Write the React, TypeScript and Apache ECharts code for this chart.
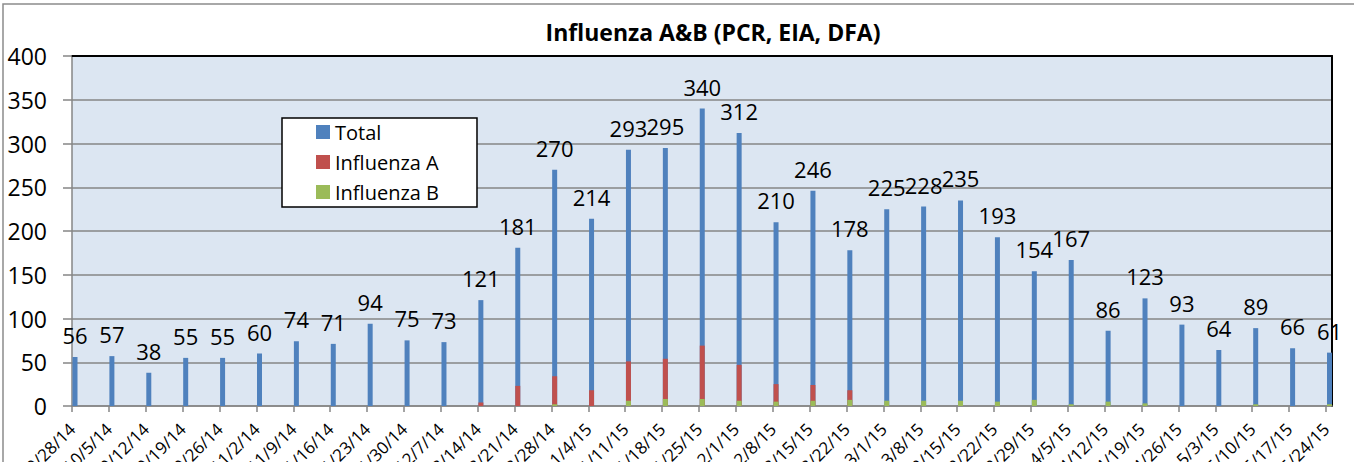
import React, { useEffect, useRef } from "react";
import * as echarts from "echarts";

const categories = [
  "9/28/14", "10/5/14", "10/12/14", "10/19/14", "10/26/14", "11/2/14", "11/9/14",
  "11/16/14", "11/23/14", "11/30/14", "12/7/14", "12/14/14", "12/21/14", "12/28/14",
  "1/4/15", "1/11/15", "1/18/15", "1/25/15", "2/1/15", "2/8/15", "2/15/15", "2/22/15",
  "3/1/15", "3/8/15", "3/15/15", "3/22/15", "3/29/15", "4/5/15", "4/12/15", "4/19/15",
  "4/26/15", "5/3/15", "5/10/15", "5/17/15", "5/24/15",
];
const totals = [
  56, 57, 38, 55, 55, 60, 74, 71, 94, 75, 73, 121, 181, 270, 214, 293, 295, 340, 312,
  210, 246, 178, 225, 228, 235, 193, 154, 167, 86, 123, 93, 64, 89, 66, 61,
];
const influenzaA = [
  0, 0, 0, 0, 0, 0, 0, 0, 0, 0, 0, 4, 23, 34, 18, 51, 54, 69, 47, 25, 24, 18,
  0, 0, 0, 0, 0, 0, 0, 0, 0, 0, 0, 0, 0,
];
const influenzaB = [
  0, 0, 0, 0, 0, 0, 0, 0, 0, 0, 0, 0, 0, 2, 0, 6, 8, 8, 6, 5, 6, 7, 6, 6, 6, 5, 7,
  2, 5, 3, 0, 0, 2, 0, 2,
];
const yTicks = { min: 0, max: 400, interval: 50 };
const titleText = "Influenza A&B (PCR, EIA, DFA)";
const seriesNames = ["Total", "Influenza A", "Influenza B"];

const FONT = "'Open Sans', sans-serif";
const GRAY = "#868686";

export default function App() {
  const ref = useRef<HTMLDivElement>(null);
  useEffect(() => {
    if (!ref.current) return;
    const chart = echarts.init(ref.current, null, { renderer: "svg" });
    const plotTop = 56;
    const plotH = 350;
    const hiddenY = (gridIndex: number) => ({
      type: "value",
      gridIndex,
      min: yTicks.min,
      max: yTicks.max,
      interval: yTicks.interval,
      show: false,
    });
    chart.setOption({
      animation: false,
      backgroundColor: "#ffffff",
      textStyle: { fontFamily: FONT },
      title: {
        text: titleText,
        left: 708,
        top: 15,
        textAlign: "center",
        textStyle: { fontFamily: FONT, fontSize: 23, fontWeight: "bold", color: "#000" },
      },
      legend: {
        orient: "vertical",
        left: 282,
        top: 118,
        padding: [4, 38, 5, 34],
        itemWidth: 14,
        itemHeight: 14,
        itemGap: 10,
        icon: "rect",
        backgroundColor: "#ffffff",
        borderColor: "#000",
        borderWidth: 1.5,
        borderRadius: 0,
        textStyle: { fontFamily: FONT, fontSize: 20, color: "#000" },
        data: seriesNames,
      },
      graphic: [
        {
          type: "rect",
          z: -10,
          shape: { x: 3, y: 4, width: 1420, height: 520 },
          style: { fill: "none", stroke: "#8c8c8c", lineWidth: 1.5 },
          silent: true,
        },
      ],
      grid: [
        {
          left: 72, top: plotTop, width: 1260, height: plotH,
          show: true, backgroundColor: "#DCE6F2", borderWidth: 0,
          containLabel: false, outerBoundsMode: "none",
        },
        {
          left: 72, top: plotTop, width: 1254, height: plotH, show: false,
          containLabel: false, outerBoundsMode: "none",
        },
        {
          left: 75, top: plotTop, width: 1254.5, height: plotH, show: false,
          containLabel: false, outerBoundsMode: "none",
        },
      ],
      xAxis: [
        {
          type: "category", gridIndex: 0, data: categories, position: "bottom",
          axisLine: { show: true, onZero: false, lineStyle: { color: GRAY, width: 1.5 } },
          axisTick: { show: false }, axisLabel: { show: false }, splitLine: { show: false },
        },
        {
          type: "category", gridIndex: 0, data: categories, position: "top",
          axisLine: { show: true, onZero: false, lineStyle: { color: "#000", width: 2 } },
          axisTick: { show: false }, axisLabel: { show: false }, splitLine: { show: false },
        },
        {
          type: "category", gridIndex: 1, data: categories, position: "bottom",
          boundaryGap: false,
          axisLine: { show: false, onZero: false },
          axisTick: { show: true, length: 6, lineStyle: { color: GRAY, width: 1.5 } },
          axisLabel: {
            show: true, rotate: 45, interval: 0, margin: 20,
            fontFamily: FONT, fontSize: 17, color: "#000",
          },
          splitLine: { show: false },
        },
        {
          type: "category", gridIndex: 2, data: categories, boundaryGap: false, show: false,
        },
      ],
      yAxis: [
        {
          type: "value", gridIndex: 0, position: "left",
          min: yTicks.min, max: yTicks.max, interval: yTicks.interval,
          axisLine: { show: true, onZero: false, lineStyle: { color: GRAY, width: 1.5 } },
          axisTick: { show: true, inside: false, length: 9, lineStyle: { color: GRAY, width: 1.5 } },
          axisLabel: { show: true, margin: 25, fontFamily: FONT, fontSize: 23, color: "#000" },
          splitLine: { show: true, lineStyle: { color: GRAY, width: 1.5 } },
        },
        {
          type: "value", gridIndex: 0, position: "right",
          min: yTicks.min, max: yTicks.max, interval: yTicks.interval,
          axisLine: { show: true, onZero: false, lineStyle: { color: "#000", width: 2 } },
          axisTick: { show: false }, axisLabel: { show: false }, splitLine: { show: false },
        },
        hiddenY(1),
        hiddenY(2),
      ],
      series: [
        {
          name: seriesNames[0], type: "bar", xAxisIndex: 3, yAxisIndex: 3,
          data: totals, barWidth: 5, barGap: "-100%",
          itemStyle: { color: "#4F81BD" },
          label: {
            show: true, position: "top", distance: 11,
            fontFamily: FONT, fontSize: 22, color: "#000",
          },
        },
        {
          name: seriesNames[1], type: "bar", xAxisIndex: 3, yAxisIndex: 3,
          data: influenzaA, barWidth: 5, barGap: "-100%",
          itemStyle: { color: "#C0504D" },
        },
        {
          name: seriesNames[2], type: "bar", xAxisIndex: 3, yAxisIndex: 3,
          data: influenzaB, barWidth: 5, barGap: "-100%",
          itemStyle: { color: "#9BBB59" },
        },
      ],
    });
    return () => chart.dispose();
  }, []);
  return (
    <div
      ref={ref}
      style={{ position: "absolute", left: 0, top: 0, width: 1354, height: 462, background: "#fff" }}
    />
  );
}
